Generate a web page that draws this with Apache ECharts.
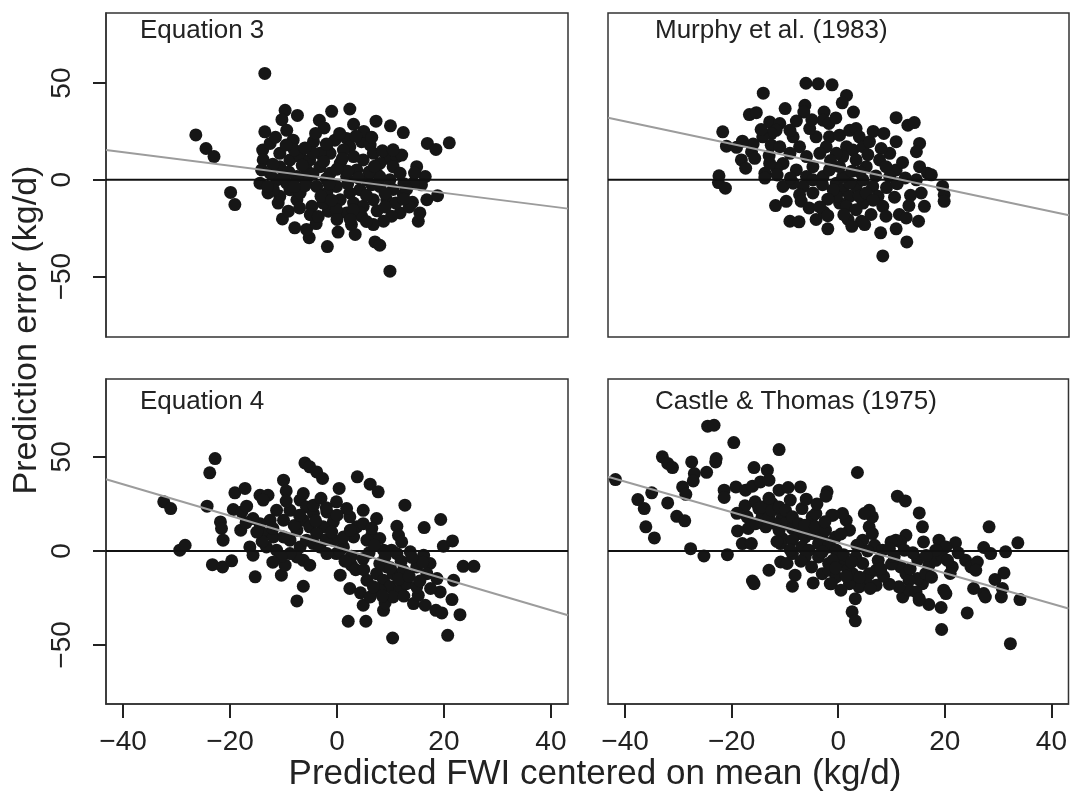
<!DOCTYPE html>
<html>
<head>
<meta charset="utf-8">
<script src="https://cdn.jsdelivr.net/npm/echarts@6/dist/echarts.min.js"></script>
<style>
html, body { margin: 0; padding: 0; background: #fff; }
#main { width: 1070px; height: 792px; }
</style>
</head>
<body>
<div id="main"></div>
<script>
// panel labels, in drawing order: top-left, top-right, bottom-left, bottom-right
var panelNames = ['Equation 3', 'Murphy et al. (1983)', 'Equation 4', 'Castle & Thomas (1975)'];
var xTicks = [-40, -20, 0, 20, 40];
var yTicks = [-50, 0, 50];
var xRange = [-43.2, 43.2];
var yRangeTop = [-81.2, 86.2];
var yRangeBottom = [-81.4, 91.4];

// fitted lines (grey)
var fitIntercept = [0.25, 6.9, 1.95, 4.4];
var fitSlope = [-0.35, -0.583, -0.837, -0.81];

// [predicted FWI centered, prediction error]
var eq3Points = [
  [-13.5,55.0],[-26.4,23.2],[-24.5,16.2],[-23.0,12.0],[-19.9,-6.5],[-19.1,-12.8],
  [-9.7,35.9],[-10.3,31.1],[-7.4,33.3],[-13.5,24.8],[-9.4,25.6],[-3.3,30.8],[-2.4,26.8],[-1.0,35.4],[2.4,36.6],[3.1,28.7],[7.3,30.3],[10.0,27.9],[12.4,24.4],[16.9,18.8],[18.5,15.7],[21.0,19.1],
  [9.9,-47.2],[-1.8,-34.5],[7.1,-32.1],[8.0,-33.8],[0.2,-27.0],[3.4,-28.2],[-5.2,-29.9],[-7.9,-24.8],[-5.7,-25.6],[-3.9,-22.6],[-10.2,-20.2],[-9.1,-16.2],[15.2,-21.4],[15.5,-17.1],[16.8,-10.3],[18.8,-8.2],[14.1,-11.6],[12.4,-7.7],[11.8,-17.1],[10.2,-18.8],[8.7,-21.4],[6.8,-23.1],[9.3,-10.3],[2.7,-23.1],[4.6,-18.8],[-1.6,-16.2],[-4.7,-13.7],[-12.9,-6.8],[-14.4,-1.7],[-10.7,-8.5],[-7.5,-10.3],
  [-13.9,15.4],[-13.8,10.3],[-12.5,18.8],[-14.1,5.1],[-10.7,13.7],[-8.8,10.3],[-8.2,20.5],[-10.7,6.8],[-6.9,12.0],[-5.1,10.3],[-4.4,19.7],[-1.9,16.2],[-0.4,20.5],[1.8,21.4],[2.4,17.1],[4.6,19.7],[6.2,18.0],[9.3,11.1],[11.2,12.0],[12.1,12.8],[10.5,6.8],[14.9,6.8],[16.5,1.7],[15.8,-2.6],[14.3,-1.7],[6.8,13.7],[8.0,8.5],[7.4,3.4],
  [-3.2,6.8],[-1.3,3.4],[0.6,8.5],[1.8,1.7],[3.7,5.1],[5.6,0],[4.3,-5.1],[2.4,-6.8],[-0.1,-3.4],[-1.9,-6.8],[-3.8,-3.4],[-5.7,0],[-7.5,1.7],[-9.4,-1.7],[-11.3,0],[-12.5,3.4],[0.6,-10.3],[3.1,-12.0],[4.9,-13.7],[6.8,-10.3],[8.0,-3.4],[9.9,0],[11.8,3.4],[-1.3,13.7],[-3.2,13.7],[-5.7,5.1],[-8.8,-5.1],[-6.9,-6.8],[-11.9,-5.1],[1.8,-17.1],[4.3,-17.1],[-0.1,-15.4],[-2.6,-12.0],[8.0,1.7],[4.9,10.3],[3.1,12.0],[1.2,15.4],
  [-2.0,0.5],[2.0,-2.0],[6.0,4.0],[-6.0,-3.0],[-9.0,4.0],[10.5,-5.0],[12.5,-2.0],[-4.0,24.0],[5.0,25.0],[-11.5,22.0],[-5.0,-18.0],[7.5,-16.0],[-8.0,15.5],[0.0,-20.5],[13.5,-14.0],[-2.5,9.5],[2.0,4.5],
  [-12.0,8.0],[-10.0,1.5],[-8.0,-3.5],[-6.5,7.5],[-4.5,14.0],[-3.0,-8.5],[-1.0,-10.5],[1.0,11.0],[3.0,-15.5],[5.5,-8.0],[6.5,-2.5],[7.0,7.0],[9.0,-7.0],[11.0,-12.0],[13.0,-5.0],[14.5,3.5],[-13.0,-3.5],[-9.5,18.0],[-6.0,16.5],[-2.0,18.5],[0.5,24.0],[3.5,22.5],[6.5,22.0],[8.5,15.0],[10.5,15.5],[-7.0,-14.5],[-3.5,-19.0],[2.5,-20.5],[5.5,-21.5],[9.0,-14.0],[-11.0,-12.0],[12.5,-10.0],[-4.5,3.0],[0.0,5.5],[4.0,1.0],[-1.5,-2.0]
];
var murphyPoints = [
  [-6.1,49.9],[-3.8,49.6],[-1.2,49.1],[-14.1,44.8],[1.5,43.6],[0.7,39.8],[2.8,35.0],[-6.3,38.5],[-6.5,35.0],[-10.0,36.8],[-16.7,33.7],[-15.4,34.7],[-2.7,35.0],[-2.9,30.8],[-1.8,29.1],[-7.9,30.4],[-12.9,29.9],[-11.0,29.1],[-11.7,25.6],[-12.6,23.9],[-21.7,24.8],[-21.0,17.4],[-19.1,16.8],[-18.2,10.3],[-17.4,6.0],[-22.4,2.1],[-22.5,-1.4],[-21.2,-4.3],[-16.3,14.5],[-15.7,11.1],[-14.2,22.2],[-12.6,17.9],[-13.8,3.4],[-13.8,0.9],[-10.4,-3.4],[-9.8,-11.1],[-11.8,-13.3],[-9.1,-21.4],[-7.4,-21.7],[-4.2,-20.5],[-2.7,-16.8],[-2.0,-25.3],[1.8,-20.5],[4.3,-21.4],[4.9,-23.1],[7.9,-27.4],[8.3,-39.3],[10.8,-25.3],[12.8,-32.1],[11.4,-17.9],[12.7,-19.7],[15.0,-21.4],[16.1,-13.7],[13.2,-13.3],[10.8,32.1],[13.0,28.2],[14.2,29.6],[15.2,18.8],[14.6,14.5],[15.2,6.8],[16.7,3.4],[17.4,2.6],[19.5,-3.4],[19.8,-7.7],[19.8,-11.1],[15.5,-6.8],[14.6,0],[10.8,19.7],[9.6,13.7],[10.8,5.1],[8.0,16.2],[7.7,10.3],[8.9,6.8],[9.6,1.7],[6.4,-3.4],[7.4,-8.5],[8.3,-13.7],[8.9,-18.8],[6.1,-17.9],[4.6,-12.0],
  [-0.4,-1.7],[0.8,-5.1],[2.1,-8.5],[3.3,-3.4],[4.6,0],[0.2,-12.0],[1.5,-13.7],[3.3,-15.4],[-0.4,-8.5],[-1.0,-5.1],[2.1,-1.7],[3.9,-8.5],[5.2,-6.8],[0.8,1.7],
  [-1.7,22.2],[0.2,23.1],[2.1,25.6],[3.3,26.5],[3.9,22.2],[1.5,17.1],[2.7,15.4],[4.6,17.1],[5.8,19.7],[0.8,12.0],[3.3,10.3],[5.2,6.8],[-0.4,13.7],[-2.3,17.1],[-4.2,22.2],[-3.5,13.7],[-4.8,6.8],[-6.0,12.0],[-7.3,17.1],[-8.5,22.2],[-9.1,13.7],[-10.4,8.5],[-7.9,5.1],[-6.0,1.7],[-6.6,-3.4],[-4.8,-6.8],[-7.3,-7.7],[-8.5,-1.7],[-2.9,1.7],[-1.7,5.1],[-4.8,0],[-11.6,6.0],[-12.9,8.5],[-11.0,17.1],[-9.1,25.6],[-5.4,26.5],[0.2,6.8],
  [-14.5,26.0],[-13.0,12.5],[-11.5,2.5],[-9.0,1.0],[-7.0,-11.0],[-5.5,-14.5],[-3.0,-2.5],[-2.0,-10.0],[-1.5,10.0],[1.0,-18.0],[2.5,-24.0],[4.0,4.0],[5.5,13.0],[6.5,-10.5],[7.0,2.0],[9.0,-4.0],[10.5,-9.0],[11.0,-2.0],[12.0,9.0],[12.5,1.0],[13.5,-8.0],[-16.0,18.5],[-18.0,20.0],[-5.0,31.0],[-0.5,32.0],[6.5,25.0],[8.5,24.0],[-3.5,-14.0],[2.5,4.5],[-2.0,-18.5]
];
var eq4Points = [
  [-22.8,49.1],[-23.8,41.5],[-32.4,26.1],[-31.1,22.5],[-24.3,23.8],[-29.4,0.4],[-28.4,3.0],[-23.3,-7.3],[-21.4,-8.5],[-19.7,-5.3],[-21.8,15.4],[-21.6,11.9],[-21.3,5.7],[-19.1,30.9],[-17.2,33.2],[-19.4,22.0],[-17.8,20.7],[-16.9,23.8],[-18.0,11.0],[-15.3,-13.8],[-16.3,2.1],[-15.7,-2.3],[-14.4,29.6],[-12.9,29.6],[-13.8,27.0],[-10.0,37.6],[-9.5,31.9],[-6.0,46.8],[-5.1,44.7],[-3.8,42.0],[-2.7,38.5],[0.4,33.2],[3.8,39.4],[6.2,35.5],[7.7,31.4],[12.7,24.3],[19.4,16.7],[16.3,12.4],[19.9,2.5],[21.6,5.3],[23.6,-8.2],[25.6,-8.2],[21.5,-25.9],[23.0,-33.9],[20.7,-44.9],[10.4,-46.3],[2.1,-37.4],[5.4,-37.4],[-7.5,-26.6],[-6.3,-18.8],[-10.4,-12.9],[-9.7,-7.6],[0.6,-12.9],[2.7,-7.6],[2.4,-20.0],[4.4,-22.3],[4.9,-28.9],[8.7,-31.6],[9.0,-27.7],[14.3,-28.0],[15.2,-23.6],[16.5,-28.9],[18.5,-31.6],[19.6,-33.0],[19.3,-21.8],[11.2,13.1],[11.5,8.3],[12.1,4.8],[7.4,17.2],[6.5,8.3],[8.0,6.6],[8.7,0.4],[10.2,0.4],[11.2,-1.4],[13.7,-0.5],[16.2,-2.3],[17.4,-6.7],[14.9,-8.5],[16.8,-12.1],[18.7,-14.7],[21.8,-15.6],
  [7.4,-12.1],[8.7,-15.6],[9.9,-19.1],[11.8,-20.9],[13.0,-17.4],[8.0,-20.9],[6.2,-24.5],[10.5,-12.1],[12.4,-10.3],[5.6,-15.6],[6.8,-19.1],[9.3,-8.5],[8.0,-6.7],[10.5,-24.5],[14.9,-19.1],
  [2.7,-2.8],[4.9,-4.1],[1.2,2.1],[-0.7,5.7],[-0.1,-1.4],
  [3.7,12.8],[2.4,18.1],[4.9,21.6],[1.8,22.5],[-0.1,26.1],[-1.9,20.7],[-0.7,15.4],[-2.6,12.8],[3.1,7.4],[1.2,7.4],[5.6,5.7],[4.9,14.5],
  [-6.9,27.0],[-5.7,23.4],[-4.4,19.9],[-6.3,16.3],[-5.1,12.8],[-3.8,9.2],[-7.5,11.0],[-8.8,5.7],[-6.9,2.1],[-5.7,5.7],[-4.4,3.9],[-3.2,2.1],[-1.9,-1.4],[-6.3,-5.0],[-7.5,-3.2],[-5.1,-7.6],[-8.8,21.6],[-10.0,16.3],[-11.3,21.6],[-12.5,16.3],[-13.8,9.2],[-11.9,7.4],[-10.0,7.4],[-13.2,2.1],[-11.3,0.4],[-8.8,-1.4],[-6.3,30.5],[-4.4,24.3],[-14.4,14.5],[-15.7,17.2],
  [-17.0,15.0],[-14.0,5.0],[-12.0,12.0],[-9.5,26.5],[-8.0,13.5],[-7.0,19.0],[-4.0,16.0],[-3.0,28.0],[-2.0,6.0],[-1.0,10.0],[0.5,0.0],[1.5,-5.5],[2.5,11.0],[3.5,-10.0],[6.0,-1.0],[7.0,3.0],[9.0,-3.0],[10.0,-9.0],[11.5,-15.0],[12.5,-24.0],[13.5,-13.5],[15.5,-16.0],[16.0,-6.0],[17.5,-20.0],[12.0,-5.5],[5.0,-10.0],[-10.5,-3.0],[-12.0,-6.0],[0.0,19.0],[-2.0,23.0],[6.5,12.0],[8.5,-24.0],[14.0,-3.5],[-15.0,10.0]
];
var castlePoints = [
  [-24.5,66.3],[-23.3,66.8],[-19.6,57.6],[-11.1,53.9],[-33.0,50.0],[-32.0,46.5],[-31.1,44.3],[-27.5,47.3],[-22.9,49.1],[-23.0,47.3],[-27.0,41.1],[-27.2,37.2],[-24.7,41.8],[-41.8,37.9],[-15.8,44.3],[-13.3,42.9],[-29.2,34.0],[-28.6,30.1],[-35.0,30.9],[-37.6,27.3],[-36.4,22.5],[-32.0,25.5],[-30.3,18.4],[-28.8,16.0],[-36.1,12.8],[-34.5,6.9],[-27.7,1.2],[-25.2,-2.7],[-20.8,-2.0],[-21.4,32.3],[-21.4,28.4],[-19.2,34.0],[-17.4,32.3],[-16.1,34.4],[-14.6,36.7],[-13.0,37.6],[-15.6,26.1],[-14.9,22.5],[-14.3,18.1],[-17.1,18.1],[-16.9,11.9],[-18.9,10.6],[-18.0,3.9],[-16.3,3.9],[-11.1,32.3],[-9.4,33.7],[-9.0,27.0],[-7.1,34.0],[-12.4,25.2],[-10.5,18.1],[-9.9,14.5],[-11.8,14.5],[-13.0,18.1],[-6.8,22.5],[-4.9,18.1],[-4.2,19.9],[-2.1,31.4],[-2.3,29.1],[-1.2,19.0],[-10.5,6.6],[-10.8,3.9],[-10.8,-5.9],[-13.0,-10.3],[-16.1,-16.0],[-15.8,-17.4],[-8.1,-12.9],[-8.6,-18.8],[-4.7,-17.0],[-8.6,11.9],[-7.4,9.2],[-6.2,7.4],[-4.9,9.2],[-3.0,8.3],[-6.8,2.1],[-5.5,0.4],[-3.7,3.9],[-1.8,2.1],[-6.2,-3.2],[-3.7,-3.2],[-1.8,-6.7],[-3.0,-12.1],[-1.5,-17.4],[-8.6,-1.4],[-9.6,-6.7],
  [-14.3,23.4],[-12.4,21.6],[-11.1,23.4],[-9.9,21.6],[-8.6,18.1],[-7.4,14.5],[-6.2,13.7],[-4.3,12.8],[-2.4,11.0],[-0.5,7.4],[-8.6,5.7],[-11.1,11.0],[-13.6,12.8],
  [3.6,41.7],[11.1,29.1],[12.6,26.6],[15.2,20.2],[15.8,12.8],[28.3,12.8],[33.7,4.3],[31.4,-0.5],[27.3,1.8],[28.6,-1.4],[23.9,-5.0],[24.9,-8.5],[26.1,-5.9],[25.8,-10.3],[21.4,-8.5],[31.1,-11.7],[29.4,-15.2],[30.8,-20.0],[30.6,-24.5],[34.1,-25.9],[27.3,-22.7],[27.6,-24.5],[25.4,-20.0],[24.2,-33.0],[32.3,-49.3],[19.4,-41.8],[19.3,-30.1],[19.8,-20.9],[20.2,-22.7],[17.0,-28.5],[15.2,-26.2],[15.8,-17.4],[14.9,-14.7],[16.4,-12.1],[17.0,-7.6],[18.3,-5.0],[19.5,-3.2],[20.5,-5.0],[18.9,5.7],[22.0,4.3],[20.2,2.1],[18.3,0.4],[14.9,-4.6],[16.0,4.8],[12.7,8.3],[11.7,4.8],[10.8,5.7],[9.9,4.8],[12.4,0.4],[11.7,-8.5],[12.7,-12.1],[13.3,-15.6],[12.1,-24.5],[13.3,-20.9],[14.6,-21.8],[15.2,-25.4],[11.4,-19.1],[9.6,-17.7],[3.2,-25.4],[2.6,-32.4],[3.2,-37.2],[7.1,-18.3],[5.8,-12.1],[4.6,-6.7],[7.1,-10.3],[5.2,-15.6],[3.9,-19.1],[2.1,-17.4],[0.5,-20.9],[2.7,-12.1],[1.5,-8.5],[0.2,-5.0],[3.3,-3.2],[4.6,5.7],[5.8,12.8],[6.4,18.1],[5.8,21.6],[4.9,19.9],[1.5,16.3],[2.1,11.0],[0.8,19.9],[-1.0,19.0],[6.4,9.2],[6.8,3.0],[8.3,0.4],[9.6,1.2],[-1.7,3.9],[-0.4,0.4],[-1.0,-5.0],[-1.7,-10.3],[-0.4,-13.8],[-1.3,-17.4],
  [-13.0,28.0],[-11.5,5.0],[-9.0,0.5],[-7.0,-5.5],[-5.0,-8.5],[-3.0,-0.5],[-2.5,15.5],[-0.5,-9.0],[0.5,9.0],[1.0,-2.0],[2.5,-6.0],[3.5,3.0],[4.0,-14.0],[5.5,0.0],[6.0,-20.0],[7.5,-5.0],[8.5,-13.5],[10.0,-7.0],[10.5,-3.0],[13.5,-9.5],[14.0,-1.0],[16.5,-2.5],[17.5,-14.0],[21.0,-12.0],[22.5,-1.0],[-15.5,14.5],[-6.0,27.5],[-4.0,25.0],[-17.5,24.0],[-19.0,20.0],[8.0,-9.5],[1.5,-13.5]
];

var allPoints = [eq3Points, murphyPoints, eq4Points, castlePoints];
var font = 'Liberation Sans, Arial, Helvetica, sans-serif';

var grids = [
    {left: 106, top: 13, width: 462, height: 324},
    {left: 608, top: 13, width: 461, height: 324},
    {left: 106, top: 379, width: 462, height: 325},
    {left: 608, top: 379, width: 461, height: 325}
];
var titlePos = [[140, 31], [655, 31], [140, 402], [655, 402]];

function minus(v) {
    return String(v).replace('-', '\u2212');
}

var option = {
    animation: false,
    grid: [],
    xAxis: [],
    yAxis: [],
    series: [],
    graphic: [
        {
            type: 'text', x: 595, y: 774,
            style: {text: 'Predicted FWI centered on mean (kg/d)', font: '35px ' + font, fill: '#222',
                    textAlign: 'center', textVerticalAlign: 'middle'}
        },
        {
            type: 'text', x: 27, y: 330, rotation: Math.PI / 2,
            style: {text: 'Prediction error (kg/d)', font: '34px ' + font, fill: '#222',
                    textAlign: 'center', textVerticalAlign: 'middle'}
        }
    ]
};

for (var i = 0; i < 4; i++) {
    var isBottom = i >= 2;
    var isLeft = i % 2 === 0;
    var yr = isBottom ? yRangeBottom : yRangeTop;
    var g = grids[i];
    option.grid.push({
        left: g.left, top: g.top, width: g.width, height: g.height,
        show: true, borderColor: '#333', borderWidth: 1.5
    });
    option.graphic.push({
        type: 'text', x: titlePos[i][0], y: titlePos[i][1],
        style: {text: panelNames[i], font: '26px ' + font, fill: '#222', textVerticalAlign: 'middle'}
    });
    option.xAxis.push({
        type: 'value', gridIndex: i, min: xRange[0], max: xRange[1],
        axisLine: {show: isBottom, onZero: false, lineStyle: {color: '#333', width: 1.5}},
        splitLine: {show: false},
        axisTick: {show: isBottom, length: 14, customValues: xTicks,
                   lineStyle: {color: '#222', width: 2}},
        axisLabel: {show: isBottom, customValues: xTicks, margin: 24, fontFamily: font, fontSize: 28,
                    color: '#222', formatter: minus}
    });
    option.yAxis.push({
        type: 'value', gridIndex: i, min: yr[0], max: yr[1],
        axisLine: {show: isLeft, onZero: false, lineStyle: {color: '#333', width: 1.5}},
        splitLine: {show: false},
        axisTick: {show: isLeft, length: 13, customValues: yTicks,
                   lineStyle: {color: '#222', width: 2}},
        axisLabel: {show: isLeft, customValues: yTicks, rotate: 90, margin: 30, fontFamily: font, fontSize: 28,
                    color: '#222', formatter: minus}
    });
    option.series.push({
        type: 'scatter', xAxisIndex: i, yAxisIndex: i, data: allPoints[i],
        symbol: 'circle', symbolSize: 13, itemStyle: {color: '#161616', opacity: 1}
    });
    // horizontal reference line at zero error
    option.series.push({
        type: 'line', xAxisIndex: i, yAxisIndex: i, showSymbol: false, symbol: 'none',
        lineStyle: {color: '#111', width: 2},
        data: xRange.map(function (x) { return [x, 0]; })
    });
    option.series.push({
        type: 'line', xAxisIndex: i, yAxisIndex: i, showSymbol: false, symbol: 'none',
        lineStyle: {color: '#9c9c9c', width: 2},
        data: xRange.map(function (x) { return [x, fitIntercept[i] + fitSlope[i] * x]; })
    });
}

var myChart = echarts.init(document.getElementById('main'));
myChart.setOption(option);
</script>
</body>
</html>
